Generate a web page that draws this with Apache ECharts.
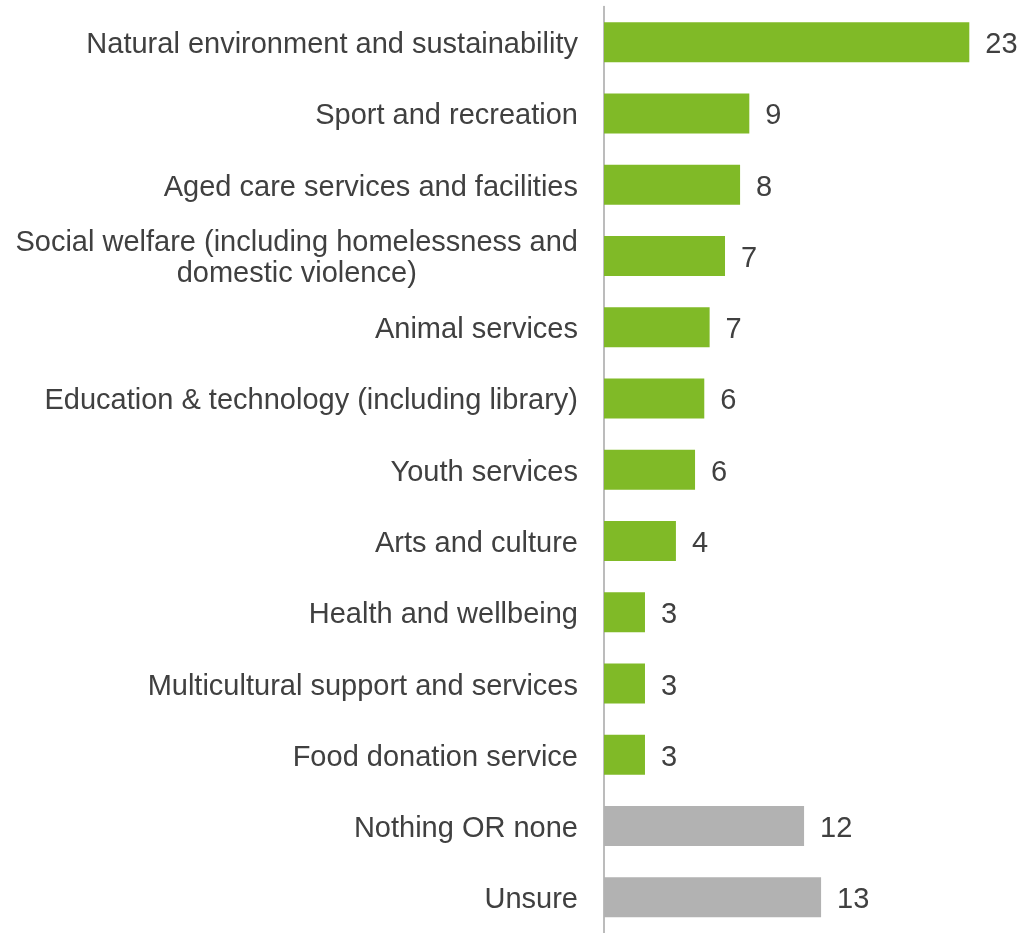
<!DOCTYPE html>
<html>
<head>
<meta charset="utf-8">
<script src="https://cdn.jsdelivr.net/npm/echarts@6/dist/echarts.min.js"></script>
<style>
  html, body { margin: 0; padding: 0; background: #fff; }
  #chart { width: 1020px; height: 933px; }
</style>
</head>
<body>
<div id="chart"></div>
<script>
// categories, top to bottom
const categories = [
  'Natural environment and sustainability',
  'Sport and recreation',
  'Aged care services and facilities',
  'Social welfare (including homelessness and\ndomestic violence)',
  'Animal services',
  'Education & technology (including library)',
  'Youth services',
  'Arts and culture',
  'Health and wellbeing',
  'Multicultural support and services',
  'Food donation service',
  'Nothing OR none',
  'Unsure'
];
// bar lengths (labels show them rounded)
const values = [22.55, 8.97, 8.4, 7.47, 6.52, 6.19, 5.62, 4.44, 2.53, 2.53, 2.53, 12.35, 13.4];
// answers drawn in grey
const neutral = ['Nothing OR none', 'Unsure'];

const font = '"Liberation Sans", Arial, sans-serif';
const textCol = '#404040';

let option = {
  animation: false,
  backgroundColor: '#fff',
  grid: { left: 604, top: 6.5, width: 405, height: 929.5, containLabel: false },
  xAxis: {
    type: 'value',
    min: 0,
    max: 25,
    show: false
  },
  yAxis: {
    type: 'category',
    data: categories,
    inverse: true,
    axisLine: { show: true, lineStyle: { color: '#a6a6a6', width: 1.5 } },
    axisTick: { show: false },
    axisLabel: {
      color: textCol,
      fontFamily: font,
      fontSize: 29,
      lineHeight: 31,
      margin: 26,
      padding: [6, 0, 0, 0],
      interval: 0,
      // wrapped labels keep their lines centred on each other
      formatter: v => v.split('\n').map(s => '{c|' + s + '}').join('\n'),
      rich: {
        c: { align: 'center', color: textCol, fontFamily: font, fontSize: 29, lineHeight: 31 }
      }
    }
  },
  series: [
    {
      type: 'bar',
      data: values,
      barWidth: 40,
      itemStyle: {
        color: p => neutral.includes(categories[p.dataIndex]) ? '#b2b2b2' : '#80ba27'
      },
      label: {
        show: true,
        position: 'right',
        distance: 16,
        offset: [0, 3],
        color: textCol,
        fontFamily: font,
        fontSize: 29,
        formatter: p => Math.round(p.value)
      }
    }
  ]
};

let myChart = echarts.init(document.getElementById('chart'));
myChart.setOption(option);
</script>
</body>
</html>
